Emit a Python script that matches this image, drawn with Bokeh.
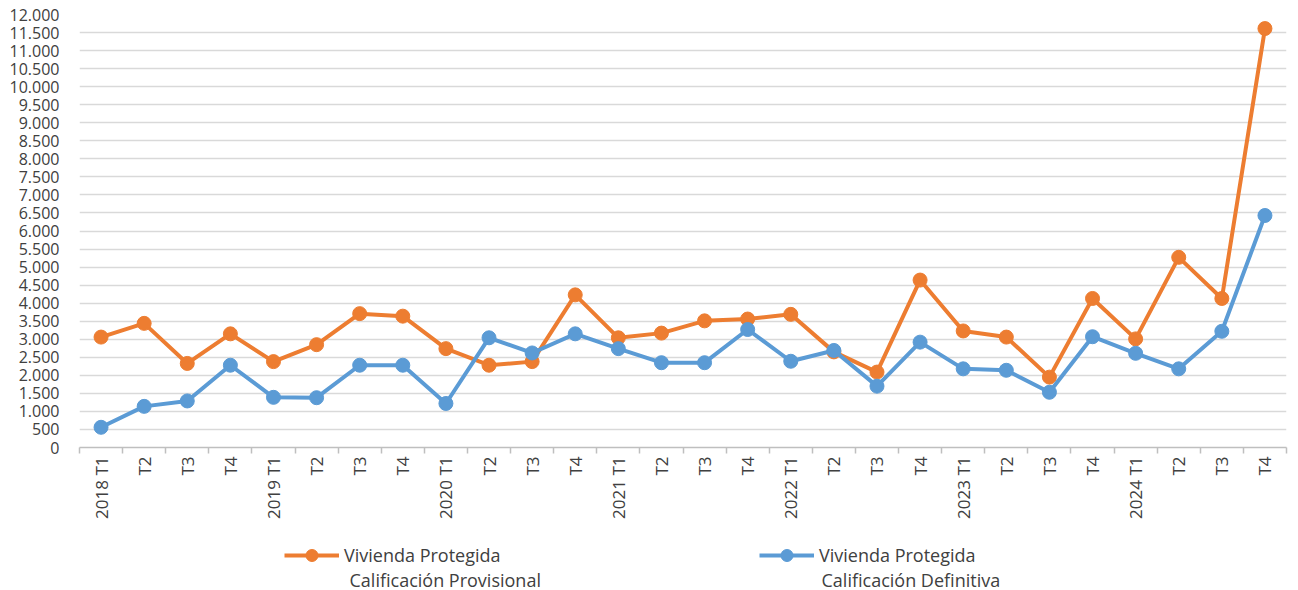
import math
from bokeh.plotting import figure
from bokeh.layouts import column
from bokeh.models import Range1d, FixedTicker, Legend, LegendItem, Label
from bokeh.embed import file_html
from bokeh.resources import INLINE

quarters = ["2018 T1", "T2", "T3", "T4",
            "2019 T1", "T2", "T3", "T4",
            "2020 T1", "T2", "T3", "T4",
            "2021 T1", "T2", "T3", "T4",
            "2022 T1", "T2", "T3", "T4",
            "2023 T1", "T2", "T3", "T4",
            "2024 T1", "T2", "T3", "T4"]

provisional = [3060, 3440, 2330, 3150, 2380, 2850, 3710, 3640, 2740,
               2280, 2380, 4230, 3040, 3170, 3510, 3560, 3690, 2650,
               2090, 4640, 3230, 3060, 1950, 4130, 3010, 5270, 4130, 11610]

definitiva = [560, 1140, 1290, 2280, 1390, 1380, 2280, 2280, 1220,
              3040, 2620, 3150, 2740, 2350, 2350, 3270, 2390, 2690,
              1700, 2920, 2180, 2140, 1530, 3070, 2610, 2180, 3220, 6430]

y_ticks = list(range(0, 12001, 500))
y_tick_labels = ["0", "500", "1.000", "1.500", "2.000", "2.500", "3.000", "3.500",
                 "4.000", "4.500", "5.000", "5.500", "6.000", "6.500", "7.000",
                 "7.500", "8.000", "8.500", "9.000", "9.500", "10.000", "10.500",
                 "11.000", "11.500", "12.000"]

series_line1 = ["Vivienda Protegida", "Vivienda Protegida"]
series_line2 = ["Calificación Provisional", "Calificación  Definitiva"]

ORANGE = "#ED7D31"
BLUE = "#5B9BD5"
FONT = "Open Sans"
TXT = "#404040"

x = list(range(len(quarters)))

p = figure(width=1297, height=528, output_backend="svg",
           toolbar_location=None, x_range=Range1d(-0.5, len(quarters) - 0.5),
           y_range=Range1d(0, 12000), min_border_left=79, min_border_top=14,
           min_border_right=11, min_border_bottom=81)
p.outline_line_color = None
p.background_fill_color = "white"
p.border_fill_color = "white"

# grid
p.xgrid.grid_line_color = None
p.ygrid.grid_line_color = "#d9d9d9"
p.ygrid.grid_line_width = 1.5

# y axis
p.yaxis.ticker = FixedTicker(ticks=y_ticks)
p.yaxis.major_label_overrides = {t: l for t, l in zip(y_ticks, y_tick_labels)}
p.yaxis.axis_line_color = None
p.yaxis.major_tick_line_color = None
p.yaxis.minor_tick_line_color = None
p.yaxis.major_label_text_font = FONT
p.yaxis.major_label_text_font_size = "16px"
p.yaxis.major_label_text_color = TXT
p.yaxis.major_label_standoff = 14

# x axis
p.xaxis.ticker = FixedTicker(ticks=x, minor_ticks=[i - 0.5 for i in range(len(quarters) + 1)])
p.xaxis.major_label_overrides = {i: q for i, q in enumerate(quarters)}
p.xaxis.major_label_orientation = math.pi / 2
p.xaxis.axis_line_color = "#bfbfbf"
p.xaxis.axis_line_width = 1.5
p.xaxis.major_tick_line_color = None
p.xaxis.minor_tick_line_color = "#bfbfbf"
p.xaxis.minor_tick_line_width = 1.5
p.xaxis.minor_tick_in = 0
p.xaxis.minor_tick_out = 6
p.xaxis.major_label_text_font = FONT
p.xaxis.major_label_text_font_size = "17px"
p.xaxis.major_label_text_color = TXT
p.xaxis.major_label_standoff = 3

p.line(x, provisional, line_color=ORANGE, line_width=4)
p.scatter(x, provisional, size=14, fill_color=ORANGE, line_color=ORANGE)
p.line(x, definitiva, line_color=BLUE, line_width=4)
p.scatter(x, definitiva, size=14, fill_color=BLUE, line_color=BLUE)

# legend strip (separate figure below the chart; its frame aligns with the chart's)
pl = figure(width=1297, height=61, output_backend="svg", toolbar_location=None,
            x_range=Range1d(0, 1), y_range=Range1d(0, 1), min_border=0)
pl.outline_line_color = None
pl.axis.visible = False
pl.grid.visible = False

nan = float("nan")
legend_x = [205, 680]
line2_dx = [65, 62]
for color, l1, l2, lx, dx in zip([ORANGE, BLUE], series_line1, series_line2,
                                 legend_x, line2_dx):
    # proxy renderers (no visible data) that only supply the legend glyph style
    e = pl.line([nan], [nan], line_color=color, line_width=4)
    m = pl.scatter([nan], [nan], size=14, fill_color=color, line_color=color)
    lg = Legend(items=[LegendItem(label=l1, renderers=[e, m])],
                location=(lx, 19), border_line_color=None,
                background_fill_alpha=0, glyph_width=55, glyph_height=30,
                label_text_font=FONT, label_text_font_size="18px",
                label_text_color=TXT, label_standoff=5, padding=0, margin=0)
    pl.add_layout(lg, "center")
    pl.add_layout(Label(x=lx + dx, y=10, x_units="screen", y_units="screen",
                        text=l2, text_font=FONT, text_font_size="18px",
                        text_color=TXT, text_baseline="middle"))

open("out.html", "w").write(file_html(column(p, pl, spacing=0), INLINE))
